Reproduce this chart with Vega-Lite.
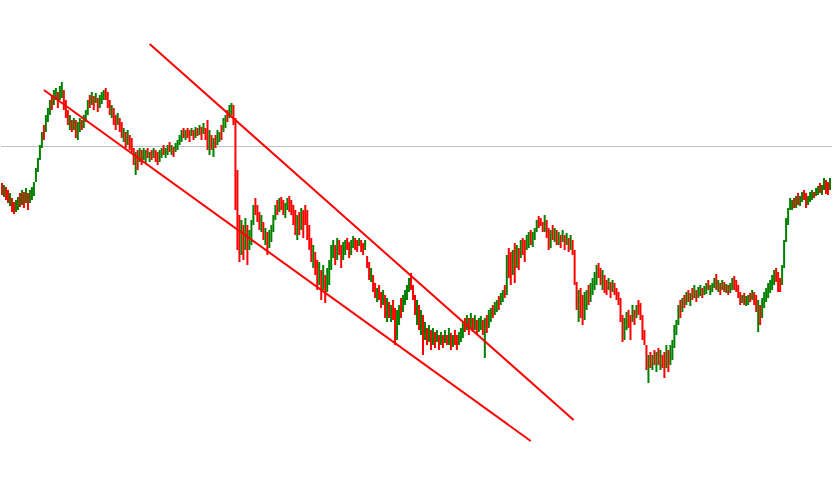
{
"$schema": "https://vega.github.io/schema/vega-lite/v6.json",
"width": 833, "height": 491, "padding": 0,
"autosize": {"type": "fit", "contains": "padding"},
"background": "white",
"config": {"view": {"stroke": null}},
"datasets": {
"level": [{"y": 146.5}],
"bars": [
{"t":0,"a":183,"b":195,"c":"r"},{"t":1,"a":185,"b":197,"c":"g"},{"t":2,"a":187,"b":200,"c":"r"},{"t":3,"a":190,"b":203,"c":"r"},{"t":4,"a":193,"b":206,"c":"g"},
{"t":5,"a":198,"b":212,"c":"r"},{"t":6,"a":202,"b":214,"c":"r"},{"t":7,"a":200,"b":212,"c":"g"},{"t":8,"a":197,"b":210,"c":"g"},{"t":9,"a":193,"b":207,"c":"r"},
{"t":10,"a":190,"b":205,"c":"g"},{"t":11,"a":192,"b":208,"c":"r"},{"t":12,"a":188,"b":203,"c":"g"},{"t":13,"a":193,"b":210,"c":"r"},{"t":14,"a":190,"b":203,"c":"g"},
{"t":15,"a":187,"b":200,"c":"g"},{"t":16,"a":182,"b":196,"c":"g"},{"t":17,"a":168,"b":182,"c":"g"},{"t":18,"a":158,"b":172,"c":"g"},{"t":19,"a":145,"b":160,"c":"g"},
{"t":20,"a":132,"b":148,"c":"g"},{"t":21,"a":125,"b":140,"c":"r"},{"t":22,"a":115,"b":132,"c":"g"},{"t":23,"a":108,"b":122,"c":"g"},{"t":24,"a":100,"b":115,"c":"g"},
{"t":25,"a":95,"b":110,"c":"r"},{"t":26,"a":90,"b":105,"c":"g"},{"t":27,"a":88,"b":100,"c":"g"},{"t":28,"a":92,"b":108,"c":"r"},{"t":29,"a":86,"b":100,"c":"g"},
{"t":30,"a":82,"b":98,"c":"g"},{"t":31,"a":90,"b":110,"c":"r"},{"t":32,"a":100,"b":118,"c":"r"},{"t":33,"a":110,"b":125,"c":"r"},{"t":34,"a":115,"b":130,"c":"g"},
{"t":35,"a":120,"b":132,"c":"r"},{"t":36,"a":118,"b":130,"c":"g"},{"t":37,"a":120,"b":138,"c":"r"},{"t":38,"a":122,"b":140,"c":"g"},{"t":39,"a":118,"b":132,"c":"g"},
{"t":40,"a":120,"b":130,"c":"r"},{"t":41,"a":115,"b":128,"c":"g"},{"t":42,"a":110,"b":122,"c":"g"},{"t":43,"a":100,"b":115,"c":"g"},{"t":44,"a":95,"b":108,"c":"r"},
{"t":45,"a":92,"b":105,"c":"g"},{"t":46,"a":96,"b":110,"c":"r"},{"t":47,"a":93,"b":103,"c":"g"},{"t":48,"a":98,"b":112,"c":"r"},{"t":49,"a":95,"b":108,"c":"g"},
{"t":50,"a":92,"b":104,"c":"g"},{"t":51,"a":90,"b":100,"c":"g"},{"t":52,"a":88,"b":100,"c":"r"},{"t":53,"a":92,"b":108,"c":"r"},{"t":54,"a":100,"b":115,"c":"r"},
{"t":55,"a":105,"b":118,"c":"g"},{"t":56,"a":108,"b":125,"c":"r"},{"t":57,"a":115,"b":130,"c":"r"},{"t":58,"a":113,"b":125,"c":"g"},{"t":59,"a":118,"b":132,"c":"r"},
{"t":60,"a":122,"b":138,"c":"r"},{"t":61,"a":128,"b":142,"c":"g"},{"t":62,"a":132,"b":148,"c":"r"},{"t":63,"a":130,"b":145,"c":"g"},{"t":64,"a":135,"b":150,"c":"r"},
{"t":65,"a":138,"b":152,"c":"r"},{"t":66,"a":148,"b":165,"c":"r"},{"t":67,"a":152,"b":175,"c":"g"},{"t":68,"a":150,"b":170,"c":"r"},{"t":69,"a":148,"b":162,"c":"g"},
{"t":70,"a":150,"b":165,"c":"r"},{"t":71,"a":148,"b":160,"c":"g"},{"t":72,"a":150,"b":163,"c":"g"},{"t":73,"a":148,"b":158,"c":"r"},{"t":74,"a":152,"b":162,"c":"g"},
{"t":75,"a":150,"b":160,"c":"r"},{"t":76,"a":148,"b":158,"c":"g"},{"t":77,"a":150,"b":162,"c":"r"},{"t":78,"a":152,"b":165,"c":"r"},{"t":79,"a":150,"b":162,"c":"g"},
{"t":80,"a":148,"b":158,"c":"g"},{"t":81,"a":145,"b":155,"c":"r"},{"t":82,"a":148,"b":158,"c":"g"},{"t":83,"a":145,"b":155,"c":"g"},{"t":84,"a":142,"b":152,"c":"r"},
{"t":85,"a":145,"b":155,"c":"g"},{"t":86,"a":147,"b":157,"c":"r"},{"t":87,"a":143,"b":152,"c":"g"},{"t":88,"a":140,"b":150,"c":"g"},{"t":89,"a":135,"b":145,"c":"g"},
{"t":90,"a":130,"b":142,"c":"g"},{"t":91,"a":128,"b":138,"c":"r"},{"t":92,"a":130,"b":140,"c":"g"},{"t":93,"a":128,"b":138,"c":"r"},{"t":94,"a":130,"b":142,"c":"r"},
{"t":95,"a":128,"b":136,"c":"g"},{"t":96,"a":130,"b":140,"c":"r"},{"t":97,"a":127,"b":138,"c":"g"},{"t":98,"a":128,"b":136,"c":"r"},{"t":99,"a":125,"b":135,"c":"g"},
{"t":100,"a":127,"b":140,"c":"r"},{"t":101,"a":123,"b":134,"c":"g"},{"t":102,"a":128,"b":140,"c":"r"},{"t":103,"a":120,"b":150,"c":"r"},{"t":104,"a":130,"b":155,"c":"g"},
{"t":105,"a":135,"b":150,"c":"r"},{"t":106,"a":138,"b":157,"c":"g"},{"t":107,"a":135,"b":148,"c":"r"},{"t":108,"a":130,"b":145,"c":"g"},{"t":109,"a":132,"b":142,"c":"g"},
{"t":110,"a":125,"b":140,"c":"r"},{"t":111,"a":118,"b":132,"c":"g"},{"t":112,"a":115,"b":128,"c":"g"},{"t":113,"a":110,"b":122,"c":"r"},{"t":114,"a":105,"b":118,"c":"g"},
{"t":115,"a":103,"b":115,"c":"g"},{"t":116,"a":105,"b":125,"c":"r"},{"t":117,"a":118,"b":210,"c":"r"},{"t":118,"a":170,"b":250,"c":"r"},{"t":119,"a":215,"b":262,"c":"r"},
{"t":120,"a":220,"b":255,"c":"g"},{"t":121,"a":225,"b":260,"c":"r"},{"t":122,"a":218,"b":250,"c":"g"},{"t":123,"a":225,"b":265,"c":"r"},{"t":124,"a":230,"b":250,"c":"g"},
{"t":125,"a":220,"b":245,"c":"g"},{"t":126,"a":205,"b":225,"c":"g"},{"t":127,"a":198,"b":215,"c":"r"},{"t":128,"a":205,"b":222,"c":"r"},{"t":129,"a":212,"b":230,"c":"r"},
{"t":130,"a":215,"b":232,"c":"g"},{"t":131,"a":222,"b":240,"c":"r"},{"t":132,"a":228,"b":245,"c":"g"},{"t":133,"a":232,"b":255,"c":"r"},{"t":134,"a":230,"b":248,"c":"g"},
{"t":135,"a":225,"b":242,"c":"g"},{"t":136,"a":215,"b":232,"c":"g"},{"t":137,"a":205,"b":220,"c":"g"},{"t":138,"a":200,"b":215,"c":"r"},{"t":139,"a":198,"b":212,"c":"g"},
{"t":140,"a":197,"b":210,"c":"r"},{"t":141,"a":200,"b":215,"c":"r"},{"t":142,"a":203,"b":218,"c":"g"},{"t":143,"a":198,"b":210,"c":"g"},{"t":144,"a":196,"b":212,"c":"r"},
{"t":145,"a":200,"b":215,"c":"r"},{"t":146,"a":205,"b":225,"c":"r"},{"t":147,"a":210,"b":235,"c":"r"},{"t":148,"a":215,"b":240,"c":"g"},{"t":149,"a":212,"b":235,"c":"r"},
{"t":150,"a":208,"b":230,"c":"g"},{"t":151,"a":210,"b":238,"c":"r"},{"t":152,"a":205,"b":225,"c":"r"},{"t":153,"a":210,"b":240,"c":"r"},{"t":154,"a":225,"b":250,"c":"r"},
{"t":155,"a":238,"b":262,"c":"r"},{"t":156,"a":245,"b":268,"c":"g"},{"t":157,"a":252,"b":275,"c":"r"},{"t":158,"a":260,"b":290,"c":"r"},{"t":159,"a":262,"b":285,"c":"g"},
{"t":160,"a":270,"b":300,"c":"r"},{"t":161,"a":265,"b":290,"c":"g"},{"t":162,"a":275,"b":303,"c":"r"},{"t":163,"a":268,"b":292,"c":"g"},{"t":164,"a":260,"b":285,"c":"g"},
{"t":165,"a":245,"b":270,"c":"g"},{"t":166,"a":240,"b":258,"c":"g"},{"t":167,"a":245,"b":265,"c":"r"},{"t":168,"a":238,"b":260,"c":"g"},{"t":169,"a":240,"b":255,"c":"r"},
{"t":170,"a":245,"b":268,"c":"r"},{"t":171,"a":242,"b":260,"c":"g"},{"t":172,"a":240,"b":255,"c":"g"},{"t":173,"a":238,"b":250,"c":"r"},{"t":174,"a":242,"b":258,"c":"r"},
{"t":175,"a":240,"b":255,"c":"g"},{"t":176,"a":236,"b":248,"c":"g"},{"t":177,"a":238,"b":250,"c":"r"},{"t":178,"a":240,"b":252,"c":"r"},{"t":179,"a":238,"b":246,"c":"g"},
{"t":180,"a":240,"b":252,"c":"r"},{"t":181,"a":243,"b":255,"c":"r"},{"t":182,"a":240,"b":250,"c":"g"},{"t":183,"a":256,"b":268,"c":"r"},{"t":184,"a":262,"b":280,"c":"r"},
{"t":185,"a":268,"b":282,"c":"g"},{"t":186,"a":275,"b":292,"c":"r"},{"t":187,"a":283,"b":298,"c":"r"},{"t":188,"a":288,"b":302,"c":"g"},{"t":189,"a":285,"b":300,"c":"r"},
{"t":190,"a":292,"b":308,"c":"r"},{"t":191,"a":290,"b":305,"c":"g"},{"t":192,"a":295,"b":318,"c":"r"},{"t":193,"a":298,"b":322,"c":"g"},{"t":194,"a":302,"b":318,"c":"r"},
{"t":195,"a":305,"b":322,"c":"g"},{"t":196,"a":300,"b":320,"c":"r"},{"t":197,"a":308,"b":345,"c":"r"},{"t":198,"a":310,"b":340,"c":"g"},{"t":199,"a":305,"b":325,"c":"g"},
{"t":200,"a":298,"b":318,"c":"r"},{"t":201,"a":295,"b":312,"c":"g"},{"t":202,"a":290,"b":305,"c":"g"},{"t":203,"a":285,"b":300,"c":"g"},{"t":204,"a":278,"b":292,"c":"g"},
{"t":205,"a":273,"b":290,"c":"r"},{"t":206,"a":285,"b":300,"c":"r"},{"t":207,"a":295,"b":315,"c":"r"},{"t":208,"a":300,"b":325,"c":"g"},{"t":209,"a":305,"b":330,"c":"r"},
{"t":210,"a":310,"b":335,"c":"g"},{"t":211,"a":315,"b":355,"c":"r"},{"t":212,"a":322,"b":340,"c":"g"},{"t":213,"a":328,"b":345,"c":"r"},{"t":214,"a":325,"b":342,"c":"g"},
{"t":215,"a":330,"b":350,"c":"r"},{"t":216,"a":328,"b":345,"c":"g"},{"t":217,"a":332,"b":348,"c":"r"},{"t":218,"a":330,"b":342,"c":"g"},{"t":219,"a":335,"b":350,"c":"r"},
{"t":220,"a":332,"b":345,"c":"g"},{"t":221,"a":335,"b":348,"c":"r"},{"t":222,"a":330,"b":343,"c":"g"},{"t":223,"a":335,"b":345,"c":"r"},{"t":224,"a":328,"b":345,"c":"g"},
{"t":225,"a":333,"b":350,"c":"r"},{"t":226,"a":335,"b":347,"c":"g"},{"t":227,"a":330,"b":345,"c":"r"},{"t":228,"a":335,"b":350,"c":"r"},{"t":229,"a":332,"b":345,"c":"g"},
{"t":230,"a":328,"b":342,"c":"g"},{"t":231,"a":322,"b":338,"c":"g"},{"t":232,"a":318,"b":332,"c":"r"},{"t":233,"a":315,"b":330,"c":"g"},{"t":234,"a":318,"b":335,"c":"r"},
{"t":235,"a":313,"b":328,"c":"g"},{"t":236,"a":318,"b":332,"c":"r"},{"t":237,"a":315,"b":330,"c":"g"},{"t":238,"a":320,"b":335,"c":"r"},{"t":239,"a":318,"b":332,"c":"g"},
{"t":240,"a":316,"b":330,"c":"g"},{"t":241,"a":320,"b":335,"c":"r"},{"t":242,"a":318,"b":358,"c":"g"},{"t":243,"a":315,"b":333,"c":"r"},{"t":244,"a":310,"b":328,"c":"g"},
{"t":245,"a":308,"b":322,"c":"g"},{"t":246,"a":305,"b":318,"c":"r"},{"t":247,"a":302,"b":315,"c":"g"},{"t":248,"a":300,"b":312,"c":"g"},{"t":249,"a":296,"b":310,"c":"r"},
{"t":250,"a":293,"b":305,"c":"g"},{"t":251,"a":290,"b":302,"c":"g"},{"t":252,"a":285,"b":298,"c":"r"},{"t":253,"a":255,"b":295,"c":"g"},{"t":254,"a":248,"b":278,"c":"r"},
{"t":255,"a":252,"b":285,"c":"r"},{"t":256,"a":250,"b":275,"c":"g"},{"t":257,"a":243,"b":283,"c":"r"},{"t":258,"a":245,"b":268,"c":"g"},{"t":259,"a":248,"b":270,"c":"r"},
{"t":260,"a":240,"b":258,"c":"g"},{"t":261,"a":238,"b":255,"c":"r"},{"t":262,"a":240,"b":262,"c":"r"},{"t":263,"a":235,"b":250,"c":"g"},{"t":264,"a":232,"b":248,"c":"g"},
{"t":265,"a":230,"b":245,"c":"r"},{"t":266,"a":232,"b":247,"c":"g"},{"t":267,"a":228,"b":240,"c":"g"},{"t":268,"a":220,"b":232,"c":"g"},{"t":269,"a":216,"b":228,"c":"r"},
{"t":270,"a":218,"b":226,"c":"r"},{"t":271,"a":222,"b":232,"c":"r"},{"t":272,"a":215,"b":232,"c":"g"},{"t":273,"a":220,"b":238,"c":"r"},{"t":274,"a":228,"b":250,"c":"r"},
{"t":275,"a":230,"b":248,"c":"g"},{"t":276,"a":225,"b":240,"c":"r"},{"t":277,"a":228,"b":242,"c":"g"},{"t":278,"a":230,"b":245,"c":"r"},{"t":279,"a":232,"b":245,"c":"g"},
{"t":280,"a":235,"b":248,"c":"r"},{"t":281,"a":230,"b":242,"c":"g"},{"t":282,"a":235,"b":250,"c":"r"},{"t":283,"a":233,"b":245,"c":"g"},{"t":284,"a":238,"b":252,"c":"r"},
{"t":285,"a":235,"b":250,"c":"g"},{"t":286,"a":240,"b":255,"c":"r"},{"t":287,"a":250,"b":285,"c":"r"},{"t":288,"a":282,"b":310,"c":"r"},{"t":289,"a":290,"b":322,"c":"g"},
{"t":290,"a":288,"b":318,"c":"r"},{"t":291,"a":295,"b":325,"c":"r"},{"t":292,"a":292,"b":320,"c":"g"},{"t":293,"a":290,"b":310,"c":"g"},{"t":294,"a":285,"b":305,"c":"r"},
{"t":295,"a":283,"b":302,"c":"g"},{"t":296,"a":278,"b":295,"c":"g"},{"t":297,"a":272,"b":290,"c":"g"},{"t":298,"a":265,"b":285,"c":"g"},{"t":299,"a":263,"b":278,"c":"r"},
{"t":300,"a":268,"b":285,"c":"r"},{"t":301,"a":270,"b":290,"c":"g"},{"t":302,"a":275,"b":293,"c":"r"},{"t":303,"a":280,"b":295,"c":"r"},{"t":304,"a":278,"b":290,"c":"g"},
{"t":305,"a":282,"b":298,"c":"r"},{"t":306,"a":280,"b":292,"c":"g"},{"t":307,"a":283,"b":295,"c":"r"},{"t":308,"a":288,"b":300,"c":"r"},{"t":309,"a":292,"b":305,"c":"r"},
{"t":310,"a":298,"b":322,"c":"r"},{"t":311,"a":315,"b":342,"c":"r"},{"t":312,"a":318,"b":340,"c":"g"},{"t":313,"a":312,"b":330,"c":"g"},{"t":314,"a":310,"b":328,"c":"r"},
{"t":315,"a":315,"b":340,"c":"r"},{"t":316,"a":305,"b":322,"c":"g"},{"t":317,"a":310,"b":325,"c":"r"},{"t":318,"a":305,"b":318,"c":"g"},{"t":319,"a":300,"b":315,"c":"r"},
{"t":320,"a":303,"b":320,"c":"r"},{"t":321,"a":315,"b":340,"c":"r"},{"t":322,"a":330,"b":345,"c":"r"},{"t":323,"a":345,"b":370,"c":"r"},{"t":324,"a":355,"b":383,"c":"g"},
{"t":325,"a":352,"b":368,"c":"r"},{"t":326,"a":355,"b":370,"c":"g"},{"t":327,"a":350,"b":365,"c":"r"},{"t":328,"a":352,"b":372,"c":"g"},{"t":329,"a":348,"b":365,"c":"r"},
{"t":330,"a":350,"b":370,"c":"g"},{"t":331,"a":355,"b":368,"c":"r"},{"t":332,"a":352,"b":378,"c":"r"},{"t":333,"a":345,"b":368,"c":"g"},{"t":334,"a":350,"b":372,"c":"r"},
{"t":335,"a":345,"b":365,"c":"g"},{"t":336,"a":340,"b":360,"c":"g"},{"t":337,"a":325,"b":348,"c":"g"},{"t":338,"a":320,"b":335,"c":"g"},{"t":339,"a":305,"b":325,"c":"g"},
{"t":340,"a":300,"b":318,"c":"r"},{"t":341,"a":298,"b":312,"c":"g"},{"t":342,"a":295,"b":308,"c":"r"},{"t":343,"a":292,"b":305,"c":"g"},{"t":344,"a":290,"b":302,"c":"r"},
{"t":345,"a":293,"b":306,"c":"g"},{"t":346,"a":288,"b":300,"c":"r"},{"t":347,"a":285,"b":298,"c":"g"},{"t":348,"a":290,"b":302,"c":"r"},{"t":349,"a":287,"b":298,"c":"g"},
{"t":350,"a":285,"b":296,"c":"g"},{"t":351,"a":288,"b":298,"c":"r"},{"t":352,"a":286,"b":295,"c":"g"},{"t":353,"a":283,"b":294,"c":"g"},{"t":354,"a":280,"b":290,"c":"r"},
{"t":355,"a":285,"b":295,"c":"g"},{"t":356,"a":283,"b":292,"c":"g"},{"t":357,"a":278,"b":288,"c":"g"},{"t":358,"a":274,"b":290,"c":"r"},{"t":359,"a":280,"b":292,"c":"g"},
{"t":360,"a":283,"b":295,"c":"r"},{"t":361,"a":280,"b":290,"c":"g"},{"t":362,"a":282,"b":292,"c":"r"},{"t":363,"a":284,"b":293,"c":"g"},{"t":364,"a":285,"b":295,"c":"r"},
{"t":365,"a":283,"b":293,"c":"g"},{"t":366,"a":278,"b":290,"c":"g"},{"t":367,"a":276,"b":290,"c":"r"},{"t":368,"a":280,"b":292,"c":"r"},{"t":369,"a":285,"b":298,"c":"r"},
{"t":370,"a":292,"b":305,"c":"r"},{"t":371,"a":295,"b":303,"c":"g"},{"t":372,"a":293,"b":305,"c":"r"},{"t":373,"a":296,"b":306,"c":"g"},{"t":374,"a":295,"b":305,"c":"g"},
{"t":375,"a":293,"b":302,"c":"r"},{"t":376,"a":290,"b":300,"c":"g"},{"t":377,"a":292,"b":305,"c":"r"},{"t":378,"a":295,"b":312,"c":"r"},{"t":379,"a":300,"b":332,"c":"g"},
{"t":380,"a":305,"b":325,"c":"r"},{"t":381,"a":298,"b":318,"c":"g"},{"t":382,"a":292,"b":308,"c":"g"},{"t":383,"a":288,"b":302,"c":"g"},{"t":384,"a":283,"b":298,"c":"g"},
{"t":385,"a":280,"b":293,"c":"g"},{"t":386,"a":275,"b":290,"c":"g"},{"t":387,"a":270,"b":285,"c":"g"},{"t":388,"a":268,"b":282,"c":"r"},{"t":389,"a":272,"b":292,"c":"r"},
{"t":390,"a":278,"b":292,"c":"r"},{"t":391,"a":265,"b":285,"c":"g"},{"t":392,"a":240,"b":268,"c":"g"},{"t":393,"a":218,"b":242,"c":"g"},{"t":394,"a":208,"b":225,"c":"g"},
{"t":395,"a":198,"b":210,"c":"g"},{"t":396,"a":200,"b":210,"c":"g"},{"t":397,"a":198,"b":208,"c":"r"},{"t":398,"a":196,"b":208,"c":"g"},{"t":399,"a":193,"b":205,"c":"r"},
{"t":400,"a":196,"b":206,"c":"g"},{"t":401,"a":192,"b":202,"c":"g"},{"t":402,"a":190,"b":200,"c":"r"},{"t":403,"a":193,"b":208,"c":"r"},{"t":404,"a":196,"b":205,"c":"g"},
{"t":405,"a":192,"b":202,"c":"g"},{"t":406,"a":190,"b":200,"c":"g"},{"t":407,"a":192,"b":198,"c":"r"},{"t":408,"a":188,"b":196,"c":"g"},{"t":409,"a":186,"b":195,"c":"g"},
{"t":410,"a":183,"b":193,"c":"r"},{"t":411,"a":185,"b":195,"c":"g"},{"t":412,"a":178,"b":190,"c":"g"},{"t":413,"a":180,"b":194,"c":"r"},{"t":414,"a":182,"b":195,"c":"r"},
{"t":415,"a":178,"b":190,"c":"g"}
],
"trend": [
{"x1":21,"y1":90,"x2":265,"y2":441},
{"x1":74,"y1":44,"x2":286.5,"y2":420}
]
},
"layer": [
{
"data": {"name": "level"},
"mark": {"type": "rule", "color": "#c0c0c0", "strokeWidth": 1},
"encoding": {"y": {"field": "y", "type": "quantitative", "scale": {"domain": [0, 491], "reverse": true, "nice": false, "zero": false}, "axis": null}}
},
{
"data": {"name": "bars"},
"mark": {"type": "rule", "strokeWidth": 2},
"encoding": {
"x": {"field": "t", "type": "quantitative", "scale": {"domain": [-0.5, 416], "nice": false, "zero": false}, "axis": null},
"y": {"field": "a", "type": "quantitative", "scale": {"domain": [0, 491], "reverse": true, "nice": false, "zero": false}, "axis": null},
"y2": {"field": "b"},
"color": {"field": "c", "type": "nominal", "scale": {"domain": ["g", "r"], "range": ["#008000", "#ff0000"]}, "legend": null}
}
},
{
"data": {"name": "trend"},
"mark": {"type": "rule", "color": "#ff0000", "strokeWidth": 2},
"encoding": {
"x": {"field": "x1", "type": "quantitative", "scale": {"domain": [-0.5, 416], "nice": false, "zero": false}, "axis": null},
"x2": {"field": "x2"},
"y": {"field": "y1", "type": "quantitative", "scale": {"domain": [0, 491], "reverse": true, "nice": false, "zero": false}, "axis": null},
"y2": {"field": "y2"}
}
}
]
}
